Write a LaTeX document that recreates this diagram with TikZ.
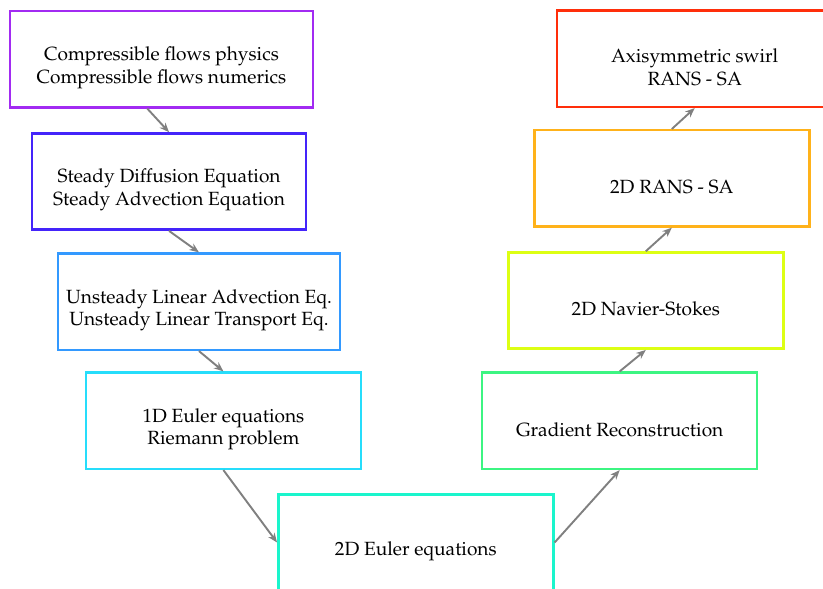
\documentclass[tikz,border=0pt]{standalone}
\usepackage[T1]{fontenc}
\usepackage{mathpazo}
\usepackage{tikz}
\usetikzlibrary{shapes, arrows.meta, positioning}
\definecolor{cpurple}{HTML}{A22BF2}
\definecolor{cblue}{HTML}{4424FA}
\definecolor{cazure}{HTML}{3399FF}
\definecolor{ccyan}{HTML}{26DDFB}
\definecolor{cteal}{HTML}{1AF5CC}
\definecolor{cgreen}{HTML}{3CF582}
\definecolor{clime}{HTML}{DDFF14}
\definecolor{corange}{HTML}{FFB21A}
\definecolor{cred}{HTML}{FF2E0A}
\newcommand{\stagetop}{\rule{0pt}{16.2pt}}
\tikzstyle{stage} = [rectangle, draw, line width=1.3pt, align=center, minimum width=5.06cm, minimum height=1.77cm, fill=white]
\tikzstyle{flow} = [-{Stealth[length=5pt, width=4pt]}, draw=gray, line width=1pt]

\begin{document}
\begin{tikzpicture}
  \useasboundingbox (0,0) rectangle (15.14,-10.82);
  % descente
  \node[stage, draw=cpurple, minimum width=5.58cm] (comp) at (2.97,-1.09) {\stagetop Compressible flows physics\\Compressible flows numerics};
  \node[stage, draw=cblue, minimum width=5.04cm] (steady) at (3.11,-3.34) {\stagetop Steady Diffusion Equation\\Steady Advection Equation};
  \node[stage, draw=cazure, minimum width=5.19cm] (unsteady) at (3.66,-5.55) {\stagetop Unsteady Linear Advection Eq.\\Unsteady Linear Transport Eq.};
  \node[stage, draw=ccyan] (euler1d) at (4.11,-7.74) {\stagetop 1D Euler equations\\Riemann problem};

  % fond du V
  \node[stage, draw=cteal] (euler2d) at (7.65,-9.98) {\stagetop 2D Euler equations};

  % remontee
  \node[stage, draw=cgreen] (grad) at (11.40,-7.74) {\stagetop Gradient Reconstruction};
  \node[stage, draw=clime] (ns) at (11.88,-5.53) {\stagetop 2D Navier-Stokes};
  \node[stage, draw=corange] (rans) at (12.36,-3.28) {\stagetop 2D RANS - SA};
  \node[stage, draw=cred] (swirl) at (12.78,-1.08) {\stagetop Axisymmetric swirl\\RANS - SA};

  % chemins
  \draw[flow] ([xshift=-0.26cm]comp.south) -- (steady.north);
  \draw[flow] (steady.south) -- (unsteady.north);
  \draw[flow] (unsteady.south) -- (euler1d.north);
  \draw[flow] (euler1d.south) -- (euler2d.west);
  \draw[flow] (euler2d.east) -- (grad.south);
  \draw[flow] (grad.north) -- (ns.south);
  \draw[flow] (ns.north) -- (rans.south);
  \draw[flow] (rans.north) -- (swirl.south);
\end{tikzpicture}
\end{document}
